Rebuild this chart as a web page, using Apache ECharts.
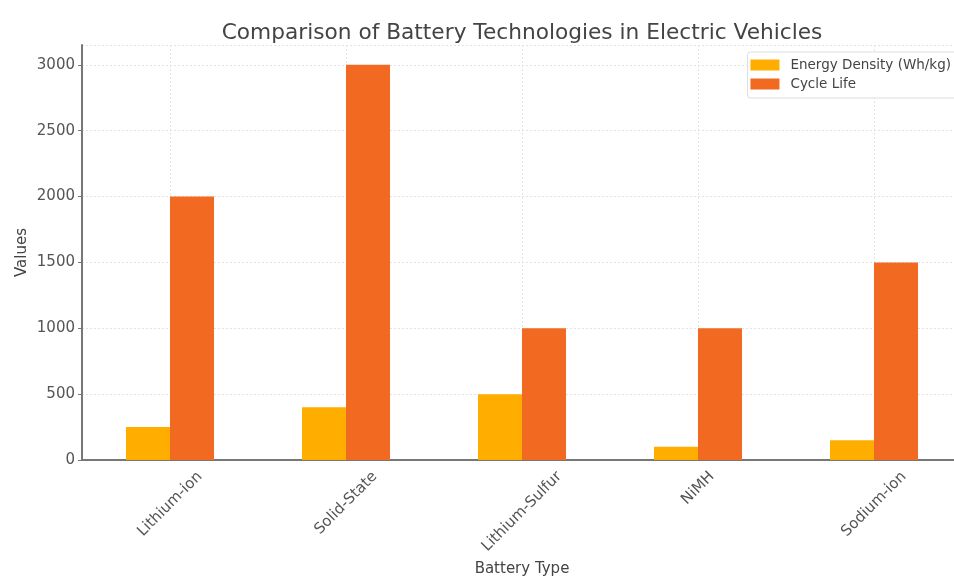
<!DOCTYPE html>
<html>
<head>
<meta charset="utf-8">
<script src="https://cdn.jsdelivr.net/npm/echarts@6/dist/echarts.min.js"></script>
<style>
  html, body { margin: 0; padding: 0; background: #fff; }
  #main { width: 954px; height: 577px; }
</style>
</head>
<body>
<div id="main"></div>
<script>
const batteryTypes = ['Lithium-ion', 'Solid-State', 'Lithium-Sulfur', 'NiMH', 'Sodium-ion'];
const energyDensity = [250, 400, 500, 100, 150];
const cycleLife = [2000, 3000, 1000, 1000, 1500];

const font = 'DejaVu Sans';
const labelSize = 15;

// Rotated labels are anchored at their end; move each one so it sits centred
// under its tick like matplotlib does (forward via negative right padding,
// downward via an empty first line with a tall line height).
const ctx = document.createElement('canvas').getContext('2d');
ctx.font = labelSize + 'px "' + font + '"';
const h = labelSize * 1.17;
const categoryData = batteryTypes.map(name => {
  const L = ctx.measureText(name).width;
  const f = (L - h) / 4;
  const g = (L + h) / 4;
  return { value: name, textStyle: { padding: [0, -f, 0, 0], lineHeight: 2 * g } };
});

const chart = echarts.init(document.getElementById('main'));

chart.setOption({
  animation: false,
  textStyle: { fontFamily: font },
  title: {
    text: 'Comparison of Battery Technologies in Electric Vehicles',
    left: 517,
    textAlign: 'center',
    top: 17,
    textStyle: { fontFamily: font, fontSize: 21.7, fontWeight: 'normal', color: '#444' }
  },
  legend: {
    orient: 'vertical',
    right: -5,
    top: 52,
    itemWidth: 29,
    itemHeight: 11,
    itemGap: 5,
    padding: [6, 8, 7, 3],
    backgroundColor: '#fff',
    borderColor: '#ddd',
    borderWidth: 1,
    borderRadius: 3,
    icon: 'rect',
    textStyle: { fontFamily: font, fontSize: 13.5, color: '#444', padding: [0, 0, 0, 6] },
    data: ['Energy Density (Wh/kg)', 'Cycle Life']
  },
  grid: { left: 82, top: 45, width: 880, height: 415, outerBoundsMode: 'none' },
  xAxis: {
    type: 'category',
    data: categoryData,
    name: 'Battery Type',
    nameLocation: 'middle',
    nameGap: 102,
    nameMoveOverlap: false,
    nameTextStyle: { fontFamily: font, fontSize: 15, color: '#444' },
    axisLine: { lineStyle: { color: '#777', width: 2 } },
    axisTick: { show: false },
    axisLabel: {
      rotate: 45,
      margin: 8,
      interval: 0,
      hideOverlap: false,
      formatter: v => '\n' + v,
      fontFamily: font,
      fontSize: labelSize,
      color: '#555'
    },
    splitLine: {
      show: true,
      alignWithLabel: true,
      lineStyle: { color: '#e3e3e3', type: [2, 2], width: 1 }
    }
  },
  yAxis: {
    type: 'value',
    min: 0,
    max: 3150,
    interval: 500,
    name: 'Values',
    nameLocation: 'middle',
    nameGap: 52,
    nameMoveOverlap: false,
    nameTextStyle: { fontFamily: font, fontSize: 15, color: '#444' },
    axisLine: { show: true, lineStyle: { color: '#777', width: 2 } },
    axisTick: { show: true, length: 4, lineStyle: { color: '#777' } },
    axisLabel: {
      showMaxLabel: false,
      formatter: v => String(v),
      fontFamily: font,
      fontSize: 15,
      color: '#555',
      margin: 7
    },
    splitLine: { lineStyle: { color: '#e3e3e3', type: [2, 2], width: 1 } }
  },
  series: [
    {
      name: 'Energy Density (Wh/kg)',
      type: 'bar',
      data: energyDensity,
      barWidth: '25%',
      barGap: '0%',
      itemStyle: { color: '#FFAE00' }
    },
    {
      name: 'Cycle Life',
      type: 'bar',
      data: cycleLife,
      barWidth: '25%',
      barGap: '0%',
      itemStyle: { color: '#F26A22' }
    }
  ]
});
</script>
</body>
</html>
